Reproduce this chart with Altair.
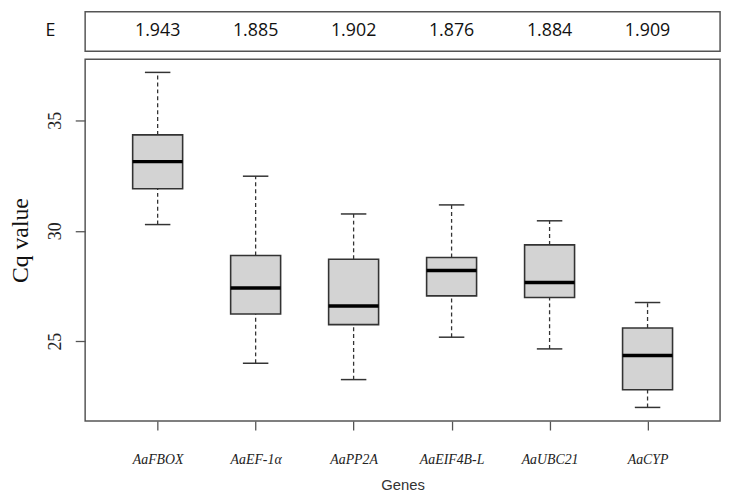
import json
import altair as alt
import pandas as pd

# ---- data ----
genes = ["AaFBOX", "AaEF-1α", "AaPP2A", "AaEIF4B-L", "AaUBC21", "AaCYP"]
efficiency = ["1.943", "1.885", "1.902", "1.876", "1.884", "1.909"]
lower = [30.28, 24.00, 23.26, 25.18, 24.65, 22.00]
q1 = [31.90, 26.23, 25.75, 27.05, 26.98, 22.80]
median = [33.13, 27.41, 26.59, 28.20, 27.66, 24.35]
q3 = [34.34, 28.88, 28.71, 28.79, 29.36, 25.60]
upper = [37.17, 32.47, 30.76, 31.17, 30.45, 26.75]
y_ticks = [25, 30, 35]
row_label = ["E"]

df = pd.DataFrame({
    "gene": genes,
    "pos": list(range(1, len(genes) + 1)),
    "efficiency": efficiency,
    "lower": lower, "q1": q1, "median": median, "q3": q3, "upper": upper,
})

xs = alt.Scale(domain=[0.26, 6.74], nice=False, zero=False)
ys = alt.Scale(domain=[21.38, 37.77], nice=False, zero=False)
label_expr = json.dumps(genes) + "[datum.value - 1]"

base = alt.Chart(df).transform_calculate(
    lo="datum.pos - 0.255", hi="datum.pos + 0.255",
    clo="datum.pos - 0.13", chi="datum.pos + 0.13",
)

x_axis = alt.Axis(
    values=list(range(1, len(genes) + 1)), labelExpr=label_expr,
    title="Genes", titleFont="Liberation Sans", titleFontSize=15,
    titleFontWeight="normal", titleColor="#333", titlePadding=11,
    labelFont="Liberation Serif", labelFontStyle="italic", labelFontSize=14,
    labelColor="#222", labelPadding=23, tickSize=9, labelFlush=False,
    grid=False, domain=False,
)
y_axis = alt.Axis(
    values=y_ticks, title="Cq value", titleFont="Liberation Serif",
    titleFontSize=24, titleFontWeight="normal", titleColor="#111",
    titlePadding=13, labelFont="Liberation Serif", labelFontSize=18,
    labelColor="#222", labelAngle=270, labelAlign="center",
    labelBaseline="bottom", labelPadding=11, tickSize=10,
    minExtent=40, maxExtent=40, grid=False, domain=False,
)

dash = [4, 3]
wh_up = base.mark_rule(color="#333", strokeWidth=1.3, strokeDash=dash).encode(
    x=alt.X("pos:Q", scale=xs, axis=x_axis),
    y=alt.Y("q3:Q", scale=ys, axis=y_axis),
    y2="upper:Q",
)
wh_lo = base.mark_rule(color="#333", strokeWidth=1.3, strokeDash=dash).encode(
    x=alt.X("pos:Q", scale=xs, axis=x_axis),
    y=alt.Y("lower:Q", scale=ys, axis=y_axis),
    y2="q1:Q",
)
cap_up = base.mark_rule(color="#333", strokeWidth=1.5).encode(
    x=alt.X("clo:Q", scale=xs, axis=x_axis), x2="chi:Q",
    y=alt.Y("upper:Q", scale=ys, axis=y_axis),
)
cap_lo = base.mark_rule(color="#333", strokeWidth=1.5).encode(
    x=alt.X("clo:Q", scale=xs, axis=x_axis), x2="chi:Q",
    y=alt.Y("lower:Q", scale=ys, axis=y_axis),
)
box = base.mark_rect(fill="#d3d3d3", stroke="#333", strokeWidth=1.6).encode(
    x=alt.X("lo:Q", scale=xs, axis=x_axis), x2="hi:Q",
    y=alt.Y("q1:Q", scale=ys, axis=y_axis), y2="q3:Q",
)
med = base.mark_rule(color="black", strokeWidth=3.5).encode(
    x=alt.X("lo:Q", scale=xs, axis=x_axis), x2="hi:Q",
    y=alt.Y("median:Q", scale=ys, axis=y_axis),
)

main = alt.layer(wh_up, wh_lo, cap_up, cap_lo, box, med).properties(width=642, height=366)

top_vals = alt.Chart(df).mark_text(font="Open Sans", fontSize=18, color="#111").encode(
    x=alt.X("pos:Q", scale=xs, axis=None),
    y=alt.value(20),
    text="efficiency:N",
)
top_lab = alt.Chart(pd.DataFrame({"label": row_label})).mark_text(
    font="Open Sans", fontSize=18, color="#111"
).encode(x=alt.value(-35), y=alt.value(20), text="label:N")
top = alt.layer(top_vals, top_lab).properties(width=642, height=40)

chart = alt.vconcat(top, main, spacing=6).configure(
    padding={"left": 0, "top": 0, "right": 5, "bottom": 0},
    background="white",
).configure_view(stroke="#555", strokeWidth=1.5).configure_axis(
    tickColor="#555", tickWidth=1.3
)

chart.save("out.html", embed_options={"renderer": "svg", "actions": False})
